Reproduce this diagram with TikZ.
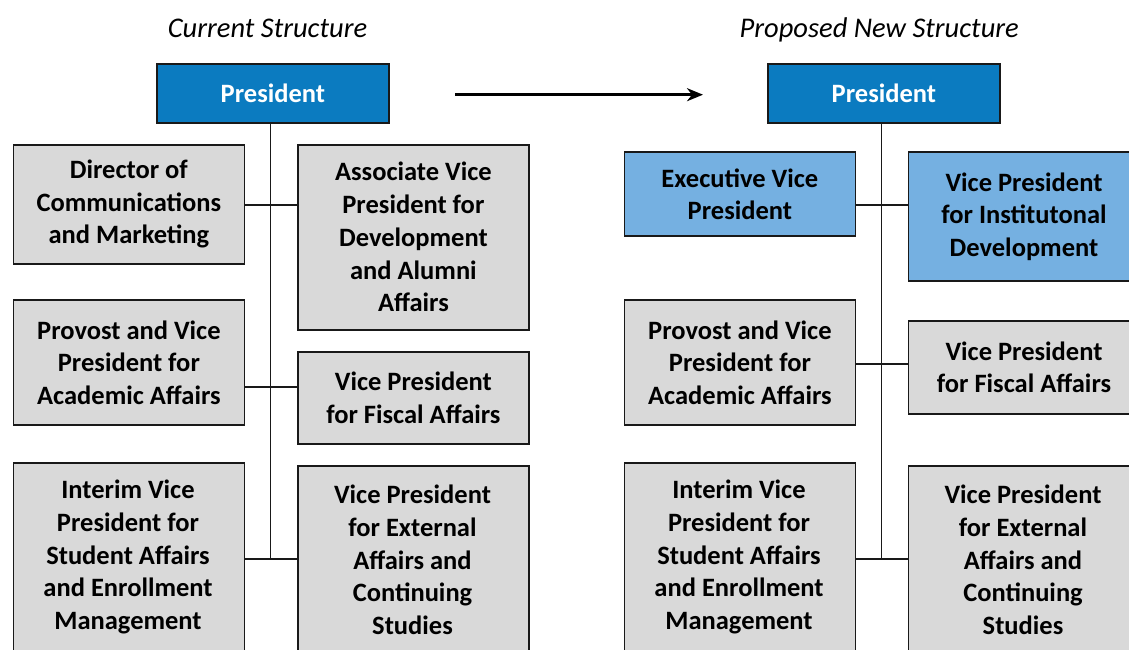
\documentclass[tikz,border=0pt]{standalone}
\usepackage{fontspec}
\setmainfont{Carlito}
\usetikzlibrary{arrows.meta}
\definecolor{darkblue}{RGB}{11,123,192}
\definecolor{lightblue}{RGB}{117,176,225}
\definecolor{boxgray}{RGB}{217,217,217}
\definecolor{edgecol}{RGB}{25,25,25}
\begin{document}
\begin{tikzpicture}[x=1pt,y=-1pt,
  txt/.style={align=center, inner sep=0pt, font=\fontsize{26.5}{32.7}\selectfont\bfseries},
  box/.style={txt, draw=edgecol, line width=1.8pt, fill=boxgray, minimum width=231pt, anchor=north west},
  presbox/.style={box, fill=darkblue, text=white, minimum width=232pt, minimum height=59pt},
  bluebox/.style={box, fill=lightblue},
  lbl/.style={txt},
  title/.style={inner sep=0pt, font=\fontsize{28.5}{34}\selectfont\itshape, anchor=base},
  conn/.style={draw=edgecol, line width=1.7pt},
  bigarrow/.style={draw=black, line width=2.4pt, -{Stealth[length=16pt,width=13pt,inset=5pt]}}
]
\useasboundingbox (0,0) rectangle (1129,650);
\clip (0,0) rectangle (1129,650);

% titles
\node[title] (t1) at (267.5,37.5) {Current Structure};
\node[title] (t2) at (879.2,37.5) {Proposed New Structure};

% arrow
\coordinate (as) at (455,94.7);
\coordinate (ae) at (703,94.7);
\draw[bigarrow] (as) -- (ae);

% ---------- current structure ----------
\coordinate (lj1) at (270.4,205.3);
\coordinate (lj2) at (270.4,387.3);
\coordinate (lj3) at (270.4,558.7);

\node[presbox] (lp) at (156,63) {President};
\node[box, minimum height=119pt] (ldir) at (12.5,143.7) {Director of\\Communications\\and Marketing};
\node[box, minimum height=185pt] (lassoc) at (297,143.7) {Associate Vice\\President for\\Development\\and Alumni\\Affairs};
\node[box, minimum height=125pt] (lprov) at (12.5,299.3) {Provost and Vice\\President for\\Academic Affairs};
\node[box, minimum height=92pt] (lfisc) at (297,350.7) {Vice President\\for Fiscal Affairs};
\node[box, minimum height=230pt] (lint) at (12.5,461.7) {};
\node[lbl] (lintt) at (128,557) {Interim Vice\\President for\\Student Affairs\\and Enrollment\\Management};
\node[box, minimum height=230pt] (lext) at (297,465) {};
\node[lbl] (lextt) at (412.5,560) {Vice President\\for External\\Affairs and\\Continuing\\Studies};

\draw[conn] (lp.south -| lj1) -- (lj3);
\draw[conn] (ldir.east |- lj1) -- (lassoc.west |- lj1);
\draw[conn] (lprov.east |- lj2) -- (lfisc.west |- lj2);
\draw[conn] (lint.east |- lj3) -- (lext.west |- lj3);

% ---------- proposed structure ----------
\coordinate (rj1) at (881.5,205.3);
\coordinate (rj2) at (881.5,364.3);
\coordinate (rj3) at (881.5,558.7);

\node[presbox] (rp) at (767,63) {President};
\node[bluebox, minimum height=84pt] (rexec) at (623.5,151.3) {Executive Vice\\President};
\node[bluebox, minimum height=128.7pt] (rinst) at (907.6,151.3) {Vice President\\for Institutonal\\Development};
\node[box, minimum height=125pt] (rprov) at (623.5,299.3) {Provost and Vice\\President for\\Academic Affairs};
\node[box, minimum height=92.7pt] (rfisc) at (907.6,320) {Vice President\\for Fiscal Affairs};
\node[box, minimum height=230pt] (rint) at (623.5,461.7) {};
\node[lbl] (rintt) at (739,557) {Interim Vice\\President for\\Student Affairs\\and Enrollment\\Management};
\node[box, minimum height=230pt] (rext) at (907.6,465) {};
\node[lbl] (rextt) at (1023,560) {Vice President\\for External\\Affairs and\\Continuing\\Studies};

\draw[conn] (rp.south -| rj1) -- (rj3);
\draw[conn] (rexec.east |- rj1) -- (rinst.west |- rj1);
\draw[conn] (rprov.east |- rj2) -- (rfisc.west |- rj2);
\draw[conn] (rint.east |- rj3) -- (rext.west |- rj3);
\end{tikzpicture}
\end{document}
